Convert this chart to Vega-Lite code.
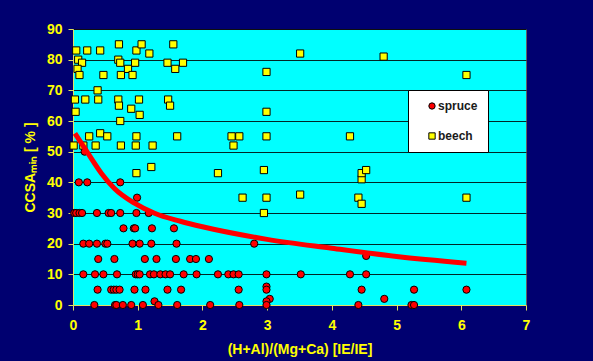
{
  "$schema": "https://vega.github.io/schema/vega-lite/v6.json",
  "width": 453,
  "height": 276,
  "autosize": {"type": "none"},
  "padding": {"left": 73, "top": 29, "right": 67, "bottom": 56},
  "background": "#000070",
  "datasets": {
    "points": [
      {"species": "beech", "x": 0.05, "y": 83}, {"species": "beech", "x": 0.22, "y": 83}, {"species": "beech", "x": 0.42, "y": 83}, {"species": "beech", "x": 0.98, "y": 83},
      {"species": "beech", "x": 1.18, "y": 82}, {"species": "beech", "x": 0.71, "y": 85}, {"species": "beech", "x": 1.06, "y": 85}, {"species": "beech", "x": 1.55, "y": 85},
      {"species": "beech", "x": 0.08, "y": 80}, {"species": "beech", "x": 0.14, "y": 79}, {"species": "beech", "x": 0.7, "y": 80}, {"species": "beech", "x": 0.73, "y": 79},
      {"species": "beech", "x": 0.96, "y": 79}, {"species": "beech", "x": 1.46, "y": 79}, {"species": "beech", "x": 1.7, "y": 79},
      {"species": "beech", "x": 0.07, "y": 77}, {"species": "beech", "x": 0.85, "y": 77}, {"species": "beech", "x": 1.58, "y": 77},
      {"species": "beech", "x": 0.1, "y": 75}, {"species": "beech", "x": 0.47, "y": 75}, {"species": "beech", "x": 0.74, "y": 75}, {"species": "beech", "x": 0.92, "y": 75},
      {"species": "beech", "x": 0.38, "y": 70},
      {"species": "beech", "x": 0.03, "y": 67}, {"species": "beech", "x": 0.19, "y": 67}, {"species": "beech", "x": 0.39, "y": 67}, {"species": "beech", "x": 0.7, "y": 67},
      {"species": "beech", "x": 1.02, "y": 67}, {"species": "beech", "x": 1.47, "y": 67},
      {"species": "beech", "x": 0.71, "y": 65}, {"species": "beech", "x": 0.9, "y": 64}, {"species": "beech", "x": 1.5, "y": 65},
      {"species": "beech", "x": 0.04, "y": 63}, {"species": "beech", "x": 1.03, "y": 62}, {"species": "beech", "x": 0.73, "y": 60},
      {"species": "beech", "x": 0.25, "y": 55}, {"species": "beech", "x": 0.42, "y": 56}, {"species": "beech", "x": 0.53, "y": 55}, {"species": "beech", "x": 0.98, "y": 55}, {"species": "beech", "x": 1.61, "y": 55},
      {"species": "beech", "x": 0.01, "y": 52}, {"species": "beech", "x": 0.16, "y": 52}, {"species": "beech", "x": 0.35, "y": 52}, {"species": "beech", "x": 0.74, "y": 52},
      {"species": "beech", "x": 0.97, "y": 52}, {"species": "beech", "x": 1.23, "y": 52},
      {"species": "beech", "x": 0.98, "y": 43}, {"species": "beech", "x": 1.21, "y": 45},
      {"species": "beech", "x": 2.24, "y": 43}, {"species": "beech", "x": 2.45, "y": 55}, {"species": "beech", "x": 2.48, "y": 52}, {"species": "beech", "x": 2.57, "y": 55},
      {"species": "beech", "x": 2.62, "y": 35}, {"species": "beech", "x": 2.95, "y": 44}, {"species": "beech", "x": 2.95, "y": 30}, {"species": "beech", "x": 2.99, "y": 76},
      {"species": "beech", "x": 2.99, "y": 63}, {"species": "beech", "x": 2.99, "y": 55}, {"species": "beech", "x": 2.99, "y": 35}, {"species": "beech", "x": 3.51, "y": 82},
      {"species": "beech", "x": 3.51, "y": 36}, {"species": "beech", "x": 4.28, "y": 55}, {"species": "beech", "x": 4.41, "y": 35}, {"species": "beech", "x": 4.46, "y": 33},
      {"species": "beech", "x": 4.46, "y": 41}, {"species": "beech", "x": 4.46, "y": 43}, {"species": "beech", "x": 4.53, "y": 44}, {"species": "beech", "x": 4.8, "y": 81},
      {"species": "beech", "x": 6.08, "y": 75}, {"species": "beech", "x": 6.08, "y": 35},
      {"species": "spruce", "x": 0.18, "y": 50},
      {"species": "spruce", "x": 0.09, "y": 40}, {"species": "spruce", "x": 0.22, "y": 40}, {"species": "spruce", "x": 0.73, "y": 40},
      {"species": "spruce", "x": 0.99, "y": 35},
      {"species": "spruce", "x": 0.02, "y": 30}, {"species": "spruce", "x": 0.05, "y": 30}, {"species": "spruce", "x": 0.1, "y": 30}, {"species": "spruce", "x": 0.14, "y": 30},
      {"species": "spruce", "x": 0.37, "y": 30}, {"species": "spruce", "x": 0.55, "y": 30}, {"species": "spruce", "x": 0.59, "y": 30}, {"species": "spruce", "x": 0.73, "y": 30},
      {"species": "spruce", "x": 0.98, "y": 30}, {"species": "spruce", "x": 1.17, "y": 30},
      {"species": "spruce", "x": 0.78, "y": 25}, {"species": "spruce", "x": 0.94, "y": 25}, {"species": "spruce", "x": 0.96, "y": 25}, {"species": "spruce", "x": 1.22, "y": 25}, {"species": "spruce", "x": 1.56, "y": 25},
      {"species": "spruce", "x": 0.16, "y": 20}, {"species": "spruce", "x": 0.25, "y": 20}, {"species": "spruce", "x": 0.37, "y": 20}, {"species": "spruce", "x": 0.5, "y": 20},
      {"species": "spruce", "x": 0.53, "y": 20}, {"species": "spruce", "x": 0.92, "y": 20}, {"species": "spruce", "x": 1.03, "y": 20}, {"species": "spruce", "x": 1.21, "y": 20},
      {"species": "spruce", "x": 1.6, "y": 20}, {"species": "spruce", "x": 2.8, "y": 20},
      {"species": "spruce", "x": 4.53, "y": 16},
      {"species": "spruce", "x": 0.39, "y": 15}, {"species": "spruce", "x": 0.64, "y": 15}, {"species": "spruce", "x": 1.11, "y": 15}, {"species": "spruce", "x": 1.29, "y": 15},
      {"species": "spruce", "x": 1.59, "y": 15}, {"species": "spruce", "x": 1.81, "y": 15}, {"species": "spruce", "x": 1.9, "y": 15}, {"species": "spruce", "x": 2.1, "y": 15},
      {"species": "spruce", "x": 0.16, "y": 10}, {"species": "spruce", "x": 0.34, "y": 10}, {"species": "spruce", "x": 0.47, "y": 10}, {"species": "spruce", "x": 0.68, "y": 10},
      {"species": "spruce", "x": 0.97, "y": 10}, {"species": "spruce", "x": 1.0, "y": 10}, {"species": "spruce", "x": 1.03, "y": 10}, {"species": "spruce", "x": 1.19, "y": 10},
      {"species": "spruce", "x": 1.25, "y": 10}, {"species": "spruce", "x": 1.35, "y": 10}, {"species": "spruce", "x": 1.43, "y": 10}, {"species": "spruce", "x": 1.5, "y": 10},
      {"species": "spruce", "x": 1.71, "y": 10}, {"species": "spruce", "x": 1.91, "y": 10}, {"species": "spruce", "x": 2.24, "y": 10}, {"species": "spruce", "x": 2.4, "y": 10},
      {"species": "spruce", "x": 2.48, "y": 10}, {"species": "spruce", "x": 2.56, "y": 10}, {"species": "spruce", "x": 2.99, "y": 10}, {"species": "spruce", "x": 3.52, "y": 10},
      {"species": "spruce", "x": 4.28, "y": 10}, {"species": "spruce", "x": 4.53, "y": 10},
      {"species": "spruce", "x": 2.99, "y": 6},
      {"species": "spruce", "x": 0.38, "y": 5}, {"species": "spruce", "x": 0.59, "y": 5}, {"species": "spruce", "x": 0.63, "y": 5}, {"species": "spruce", "x": 0.67, "y": 5},
      {"species": "spruce", "x": 0.72, "y": 5}, {"species": "spruce", "x": 0.95, "y": 5}, {"species": "spruce", "x": 1.12, "y": 5}, {"species": "spruce", "x": 1.46, "y": 5},
      {"species": "spruce", "x": 1.67, "y": 5}, {"species": "spruce", "x": 2.56, "y": 5}, {"species": "spruce", "x": 2.99, "y": 5}, {"species": "spruce", "x": 4.46, "y": 5},
      {"species": "spruce", "x": 5.27, "y": 5}, {"species": "spruce", "x": 6.08, "y": 5},
      {"species": "spruce", "x": 3.04, "y": 2}, {"species": "spruce", "x": 4.81, "y": 2},
      {"species": "spruce", "x": 1.26, "y": 1.2}, {"species": "spruce", "x": 2.99, "y": 1.2},
      {"species": "spruce", "x": 0.33, "y": 0}, {"species": "spruce", "x": 0.65, "y": 0}, {"species": "spruce", "x": 0.67, "y": 0}, {"species": "spruce", "x": 0.77, "y": 0},
      {"species": "spruce", "x": 0.9, "y": 0}, {"species": "spruce", "x": 1.08, "y": 0}, {"species": "spruce", "x": 1.32, "y": 0}, {"species": "spruce", "x": 1.61, "y": 0},
      {"species": "spruce", "x": 2.12, "y": 0}, {"species": "spruce", "x": 2.57, "y": 0}, {"species": "spruce", "x": 2.99, "y": 0}, {"species": "spruce", "x": 4.41, "y": 0},
      {"species": "spruce", "x": 5.23, "y": 0}, {"species": "spruce", "x": 5.27, "y": 0}
    ],
    "fit": [
      {"x": 0.03, "y": 56.0}, {"x": 0.23, "y": 49.5}, {"x": 0.44, "y": 42.9}, {"x": 0.64, "y": 38.0},
      {"x": 0.95, "y": 33.2}, {"x": 1.26, "y": 29.9}, {"x": 1.66, "y": 27.3}, {"x": 2.0, "y": 25.5},
      {"x": 3.0, "y": 21.4}, {"x": 4.0, "y": 18.5}, {"x": 5.0, "y": 15.8}, {"x": 6.08, "y": 13.6}
    ]
  },
  "config": {
    "font": "Liberation Sans",
    "view": {"fill": "#00ffff", "stroke": "#606060", "strokeWidth": 1},
    "axis": {
      "labelFont": "Liberation Sans",
      "labelFontSize": 14,
      "labelFontWeight": "bold",
      "labelColor": "#ffff00",
      "titleFont": "Liberation Sans",
      "titleFontSize": 14,
      "titleFontWeight": "bold",
      "titleColor": "#ffff00",
      "domainColor": "#e0e060",
      "domainWidth": 1,
      "tickColor": "#e0e060",
      "tickSize": 5,
      "tickWidth": 1,
      "labelFlush": false,
      "labelOverlap": false
    }
  },
  "encoding": {
    "x": {
      "field": "x", "type": "quantitative",
      "scale": {"domain": [0, 7], "nice": false, "zero": false},
      "axis": {"values": [0, 1, 2, 3, 4, 5, 6, 7], "format": "d", "grid": false, "title": "(H+Al)/(Mg+Ca) [IE/IE]", "labelPadding": 8, "titlePadding": 10}
    },
    "y": {
      "field": "y", "type": "quantitative",
      "scale": {"domain": [0, 90], "nice": false},
      "axis": {"values": [0, 10, 20, 30, 40, 50, 60, 70, 80, 90], "format": "d", "grid": true, "gridColor": "#000000", "gridOpacity": 0.85, "gridWidth": 1, "title": "CCSAₘᵢₙ [ % ]", "labelPadding": 6, "titlePadding": 9}
    }
  },
  "layer": [
    {
      "data": {"name": "points"},
      "mark": {"type": "point", "filled": true, "stroke": "#000000", "strokeWidth": 1, "size": 52, "opacity": 1},
      "encoding": {
        "color": {
          "field": "species", "type": "nominal",
          "scale": {"domain": ["spruce", "beech"], "range": ["#ff0000", "#ffff00"]},
          "legend": {"orient": "none", "legendX": 335, "legendY": 61, "title": null, "fillColor": "#ffffff", "strokeColor": "#000000", "padding": 10, "rowPadding": 18, "labelFont": "Liberation Sans", "labelFontSize": 12, "labelFontWeight": "bold", "labelColor": "#1a1a1a", "symbolSize": 40, "symbolOffset": 8, "labelOffset": 0, "symbolStrokeColor": "#000000", "symbolStrokeWidth": 1}
        },
        "shape": {
          "field": "species", "type": "nominal",
          "scale": {"domain": ["spruce", "beech"], "range": ["circle", "square"]},
          "legend": {"orient": "none", "legendX": 335, "legendY": 61, "title": null, "fillColor": "#ffffff", "strokeColor": "#000000", "padding": 10, "rowPadding": 18, "labelFont": "Liberation Sans", "labelFontSize": 12, "labelFontWeight": "bold", "labelColor": "#1a1a1a", "symbolSize": 40, "symbolOffset": 8, "labelOffset": 0, "symbolStrokeColor": "#000000", "symbolStrokeWidth": 1}
        }
      }
    },
    {
      "data": {"name": "fit"},
      "mark": {"type": "line", "color": "#ff0000", "strokeWidth": 5, "interpolate": "monotone", "strokeCap": "butt"},
      "encoding": {}
    }
  ]
}
